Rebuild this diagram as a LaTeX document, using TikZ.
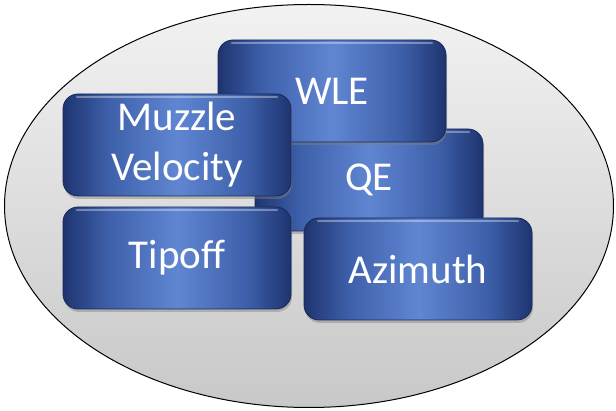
\documentclass[tikz,border=0pt]{standalone}
\usepackage{fontspec}
\setmainfont{Carlito}
\usepackage{tikz}
\usetikzlibrary{shapes.geometric,shadows}

\definecolor{boxdark}{RGB}{30,52,112}
\definecolor{boxmid}{RGB}{62,96,170}
\definecolor{boxlight}{RGB}{96,134,210}
\definecolor{boxline}{RGB}{24,40,88}
\definecolor{plate}{RGB}{200,200,200}

\pgfdeclarehorizontalshading{boxshade}{100bp}{color(0bp)=(boxdark); color(25bp)=(boxdark);
  color(35bp)=(boxmid); color(50bp)=(boxlight); color(65bp)=(boxmid);
  color(75bp)=(boxdark); color(100bp)=(boxdark)}

\tikzset{
  param/.style={rounded corners=15pt, minimum width=228pt, minimum height=102pt,
    shading=boxshade, draw=boxline, line width=0.8pt, text=white, align=center,
    font=\fontsize{41}{50}\selectfont,
    drop shadow={shadow xshift=1pt, shadow yshift=-3pt, opacity=0.45},
    path picture={
      \draw[white, opacity=0.35, line width=2.5pt, line cap=round]
        ([xshift=14pt, yshift=-3pt]path picture bounding box.north west) --
        ([xshift=-14pt, yshift=-3pt]path picture bounding box.north east);
    }},
}

\begin{document}
\begin{tikzpicture}[x=1pt, y=-1pt]
        \useasboundingbox (0,0) rectangle (616,411);

        % Plate
        \node[draw, ellipse, line width=1pt, inner sep=0pt,
              minimum width=609pt, minimum height=403pt,
              top color=gray!10, bottom color=plate] (plate) at (309, 206) {};

        % Nodes
        \node[param] (qe) at (369, 180) {QE};
        \node[param] (wle) at (332, 91) {WLE};
        \node[param] (mv) at (177, 145) {Muzzle\\Velocity};
        \node[param] (tipoff) at (177, 258) {Tipoff};
        \node[param] (azimuth) at (418, 269) {Azimuth};
    \end{tikzpicture}
\end{document}
